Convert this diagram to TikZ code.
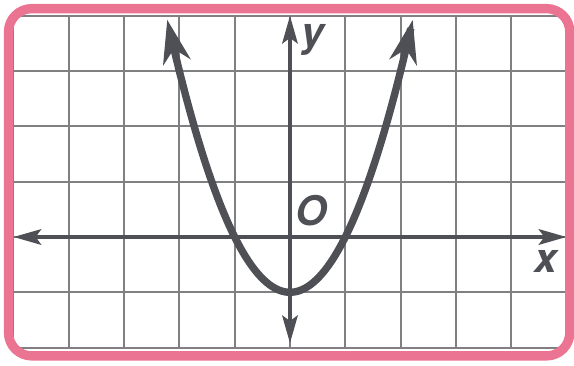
\documentclass[tikz,border=0pt]{standalone}
\usepackage{fontspec}
\setmainfont{TeX Gyre Heros}
\usepackage{xcolor}
\usetikzlibrary{arrows.meta}

\definecolor{framepink}{RGB}{234,116,146}
\definecolor{gridgray}{RGB}{128,128,130}
\definecolor{inkgray}{RGB}{78,80,86}

\tikzset{
    gridline/.style={gridgray, line width=1pt},
    axisline/.style={inkgray, line width=2pt, {Stealth[length=0.5cm, width=0.28cm, inset=0.1cm]}-{Stealth[length=0.5cm, width=0.28cm, inset=0.1cm]}},
    curveline/.style={inkgray, line width=3.8pt, {Stealth[length=0.78cm, width=0.5cm, inset=0.24cm]}-{Stealth[length=0.78cm, width=0.5cm, inset=0.24cm]}},
    framebox/.style={framepink, line width=4.8pt, rounded corners=0.42cm},
    axislabel/.style={inkgray, font=\fontsize{21}{21}\selectfont\bfseries\itshape, inner sep=0pt}
}

\begin{document}
\begin{tikzpicture}
    \useasboundingbox (-5.244,-2.315) rectangle (5.136,4.286);

    % Grid
    \draw[gridline] (-5,-2) grid (5,4);

    % Axes
    \coordinate (xl) at (-5,0);
    \coordinate (xr) at (5,0);
    \coordinate (yb) at (0,-1.92);
    \coordinate (yt) at (0,4);
    \draw[axisline] (xl) -- (xr);
    \draw[axisline] (yb) -- (yt);

    % Parabola
    \draw[curveline] plot[domain=-2.22:2.22, samples=80, smooth] (\x, {\x*\x-1});

    % Labels
    \node[axislabel, anchor=base] (ylab) at (0.42,3.45) {y};
    \node[axislabel, anchor=base] (olab) at (0.38,0.2) {O};
    \node[axislabel, anchor=base] (xlab) at (4.63,-0.64) {x};

    % Frame
    \draw[framebox] (-5.09,-2.15) rectangle (5.06,4.13);
\end{tikzpicture}
\end{document}
